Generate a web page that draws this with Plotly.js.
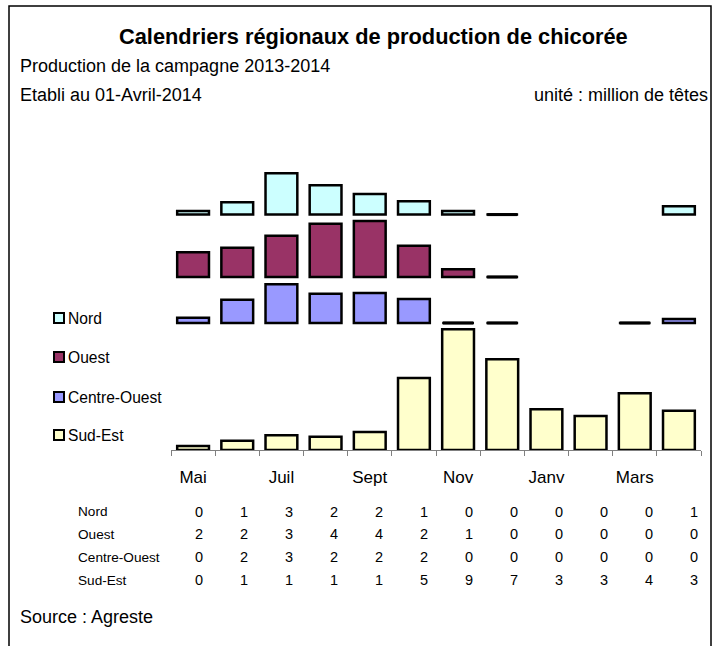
<!DOCTYPE html>
<html>
<head>
<meta charset="utf-8">
<script src="https://cdn.plot.ly/plotly-3.0.1.min.js"></script>
<style>
html,body{margin:0;padding:0;background:#fff;}
#chart{width:720px;height:646px;}
</style>
</head>
<body>
<div id="chart"></div>
<script>
// ---------- DATA ----------
const months = ['Mai','Juin','Juil','Août','Sept','Oct','Nov','Déc','Janv','Févr','Mars','Avr'];
const monthTickLabels = ['Mai','','Juil','','Sept','','Nov','','Janv','','Mars',''];
const seriesNames = ['Nord','Ouest','Centre-Ouest','Sud-Est'];

const nord        = [0.27, 0.93, 3.1, 2.2, 1.55, 1.0, 0.27, 0, null, null, null, 0.63];
const ouest       = [1.85, 2.2, 3.1, 4.0, 4.2, 2.35, 0.58, 0, null, null, null, null];
const centreOuest = [0.4, 1.75, 2.9, 2.2, 2.25, 1.8, 0, 0, null, null, 0, 0.3];
const sudEst      = [0.3, 0.7, 1.1, 1.0, 1.35, 5.4, 9.05, 6.8, 3.05, 2.55, 4.25, 2.95];

// table shown below the chart (rounded values)
const tableNord        = [0,1,3,2,2,1,0,0,0,0,0,1];
const tableOuest       = [2,2,3,4,4,2,1,0,0,0,0,0];
const tableCentreOuest = [0,2,3,2,2,2,0,0,0,0,0,0];
const tableSudEst      = [0,1,1,1,1,5,9,7,3,3,4,3];

// ---------- STYLE / LAYOUT CONSTANTS ----------
const colors = ['#CCFFFF','#993366','#9999FF','#FFFFCC'];
const bandBase = [17.66, 12.98, 9.53, 0];   // vertical offset of each band (layout only)
const FONT = 'Liberation Sans, Arial, sans-serif';

const M = {l:171, r:19, t:160, b:196};
const W = 720, H = 646;
const PW = W - M.l - M.r, PH = H - M.t - M.b;
const px = x => (x - M.l) / PW;
const py = y => 1 - (y - M.t) / PH;

const allSeries = [nord, ouest, centreOuest, sudEst];
const traces = [];
allSeries.forEach((vals, i) => {
  traces.push({
    type:'bar', x: months, y: vals, base: vals.map(() => bandBase[i]),
    name: seriesNames[i], showlegend:false,
    marker:{color: colors[i], line:{color:'#000', width:2.5}},
    hoverinfo:'x+y+name'
  });
});
// zero-value bars drawn as flat lines (like the spreadsheet does)
allSeries.forEach((vals, i) => {
  const xs = [], ys = [];
  vals.forEach((v, k) => { if (v === 0) { xs.push(months[k]); ys.push(bandBase[i]); } });
  if (xs.length) traces.push({
    type:'scatter', mode:'markers', x: xs, y: ys, showlegend:false, hoverinfo:'skip',
    cliponaxis:false,
    marker:{symbol:'line-ew', size:21.5, color:'#000', line:{color:'#000', width:3}}
  });
});

const annotations = [];
const shapes = [];
function txt(text, x, y, size, anchor, bold){
  annotations.push({xref:'paper', yref:'paper', x:px(x), y:py(y), text: bold ? '<b>'+text+'</b>' : text,
    showarrow:false, xanchor:anchor, yanchor:'middle',
    font:{family:FONT, size:size, color:'#000'}});
}
txt('Calendriers régionaux de production de chicorée', 373, 37, 21.8, 'center', true);
txt('Production de la campagne 2013-2014', 18, 66, 18, 'left');
txt('Etabli au 01-Avril-2014', 18, 95, 18, 'left');
txt('unité : million de têtes', 710, 95, 18, 'right');
txt('Source : Agreste', 18, 617, 18, 'left');

// legend (manual)
const legY = [318, 357, 397, 435];
seriesNames.forEach((n, i) => {
  shapes.push({type:'rect', xref:'paper', yref:'paper', x0:px(54), x1:px(64), y0:py(legY[i]-5), y1:py(legY[i]+5),
    fillcolor:colors[i], line:{color:'#000', width:2}});
  txt(n, 66, legY[i], 15.6, 'left');
});

// table
const tables = [tableNord, tableOuest, tableCentreOuest, tableSudEst];
const rowY = [511.5, 534.3, 557.2, 580];
tables.forEach((row, r) => {
  txt(seriesNames[r], 76, rowY[r], 13.6, 'left');
  row.forEach((v, c) => txt(String(v), 198.5 + 45 * c, rowY[r], 14.5, 'center'));
});

// outer frame
shapes.push({type:'rect', xref:'paper', yref:'paper', x0:px(9), x1:px(711), y0:py(6), y1:py(670),
  fillcolor:'rgba(0,0,0,0)', line:{color:'#000', width:1.5}, layer:'below'});

const layout = {
  width:W, height:H, margin:M, paper_bgcolor:'#fff', plot_bgcolor:'#fff',
  barmode:'overlay', bargap:0.28, showlegend:false,
  font:{family:FONT, color:'#000'},
  xaxis:{type:'category', tickmode:'array', tickvals:months, ticktext:monthTickLabels,
    tickson:'boundaries', ticks:'outside', ticklen:5, tickcolor:'#808080', tickwidth:1, tickangle:0,
    showline:true, linecolor:'#808080', linewidth:1, showgrid:false, zeroline:false,
    tickfont:{family:FONT, size:17, color:'#000'}, ticklabelstandoff:12, fixedrange:true},
  yaxis:{range:[0, PH/13.33], visible:false, showgrid:false, zeroline:false, fixedrange:true},
  annotations: annotations, shapes: shapes
};
Plotly.newPlot('chart', traces, layout, {displayModeBar:false, staticPlot:true});
</script>
</body>
</html>
